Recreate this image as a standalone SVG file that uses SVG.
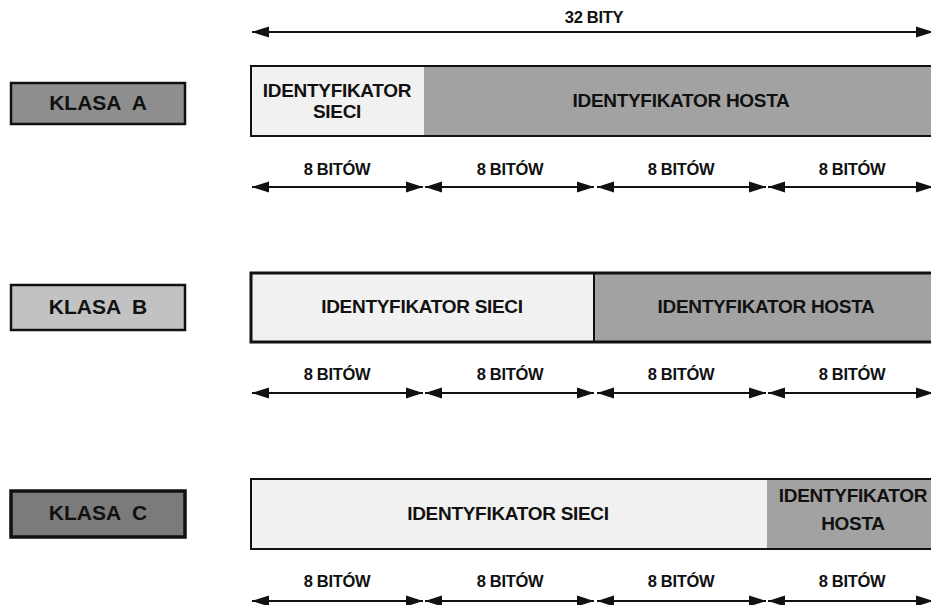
<svg xmlns="http://www.w3.org/2000/svg" width="931" height="605" viewBox="0 0 931 605">
<style>
text{font-family:"Liberation Sans",Arial,sans-serif;font-weight:bold;fill:#111;text-anchor:middle}
.lbl{font-size:21px}
.id{font-size:19px;letter-spacing:-0.3px}
.bit{font-size:16.5px;letter-spacing:-0.3px}
.net{fill:#f1f1f1}
.host{fill:#a2a2a2}
.frame{fill:none;stroke:#111}
.arr{stroke:#111;stroke-width:2;fill:none;marker-start:url(#ah);marker-end:url(#ah)}
</style>
<defs>
<marker id="ah" markerUnits="userSpaceOnUse" markerWidth="18" markerHeight="12" refX="17" refY="6" orient="auto-start-reverse" viewBox="0 0 17 12">
<path d="M0,0.5 L17,6 L0,11.5 Z" fill="#111"/>
</marker>
</defs>
<rect width="931" height="605" fill="#fff"/>

<g id="klasa-a">
<rect x="11" y="83" width="174" height="41" fill="#8e8e8e" stroke="#111" stroke-width="2.5"/>
<text class="lbl" x="98" y="110" xml:space="preserve">KLASA  A</text>
</g>
<g id="klasa-b">
<rect x="11" y="285" width="174" height="45" fill="#c2c2c2" stroke="#111" stroke-width="2.5"/>
<text class="lbl" x="98" y="314" xml:space="preserve">KLASA  B</text>
</g>
<g id="klasa-c">
<rect x="11" y="491" width="174" height="46" fill="#7b7b7b" stroke="#111" stroke-width="3.5"/>
<text class="lbl" x="98" y="520" xml:space="preserve">KLASA  C</text>
</g>

<g id="bar-a">
<rect class="net" x="251" y="66" width="173" height="70"/>
<rect class="host" x="424" y="66" width="514" height="70"/>
<rect class="frame" x="251" y="66" width="687" height="70" stroke-width="2"/>
<text class="id" x="337" y="97">IDENTYFIKATOR</text>
<text class="id" x="337" y="118">SIECI</text>
<text class="id" x="681" y="107">IDENTYFIKATOR HOSTA</text>
</g>

<g id="bar-b">
<rect class="net" x="251" y="273" width="343" height="69"/>
<rect class="host" x="594" y="273" width="344" height="69"/>
<line x1="594" y1="273" x2="594" y2="342" stroke="#111" stroke-width="2"/>
<rect class="frame" x="251" y="273" width="687" height="69" stroke-width="3"/>
<text class="id" x="422" y="313">IDENTYFIKATOR SIECI</text>
<text class="id" x="766" y="313">IDENTYFIKATOR HOSTA</text>
</g>

<g id="bar-c">
<rect class="net" x="251" y="479" width="516" height="70"/>
<rect class="host" x="767" y="479" width="171" height="70"/>
<rect class="frame" x="251" y="479" width="687" height="70" stroke-width="2"/>
<text class="id" x="508" y="520">IDENTYFIKATOR SIECI</text>
<text class="id" x="853" y="502">IDENTYFIKATOR</text>
<text class="id" x="853" y="530">HOSTA</text>
</g>

<g id="connectors">
<line class="arr" x1="252" y1="32" x2="933" y2="32"/>
<line class="arr" x1="252" y1="187" x2="423" y2="187"/>
<line class="arr" x1="425" y1="187" x2="594" y2="187"/>
<line class="arr" x1="597" y1="187" x2="766" y2="187"/>
<line class="arr" x1="768" y1="187" x2="933" y2="187"/>
<line class="arr" x1="252" y1="393" x2="423" y2="393"/>
<line class="arr" x1="425" y1="393" x2="594" y2="393"/>
<line class="arr" x1="597" y1="393" x2="766" y2="393"/>
<line class="arr" x1="768" y1="393" x2="933" y2="393"/>
<line class="arr" x1="252" y1="601" x2="423" y2="601"/>
<line class="arr" x1="425" y1="601" x2="594" y2="601"/>
<line class="arr" x1="597" y1="601" x2="766" y2="601"/>
<line class="arr" x1="768" y1="601" x2="933" y2="601"/>
</g>

<g id="labels">
<text class="bit" x="594" y="23">32 BITY</text>
<text class="bit" x="337" y="175">8 BITÓW</text>
<text class="bit" x="510" y="175">8 BITÓW</text>
<text class="bit" x="681" y="175">8 BITÓW</text>
<text class="bit" x="852" y="175">8 BITÓW</text>
<text class="bit" x="337" y="380">8 BITÓW</text>
<text class="bit" x="510" y="380">8 BITÓW</text>
<text class="bit" x="681" y="380">8 BITÓW</text>
<text class="bit" x="852" y="380">8 BITÓW</text>
<text class="bit" x="337" y="587">8 BITÓW</text>
<text class="bit" x="510" y="587">8 BITÓW</text>
<text class="bit" x="681" y="587">8 BITÓW</text>
<text class="bit" x="852" y="587">8 BITÓW</text>
</g>
</svg>
